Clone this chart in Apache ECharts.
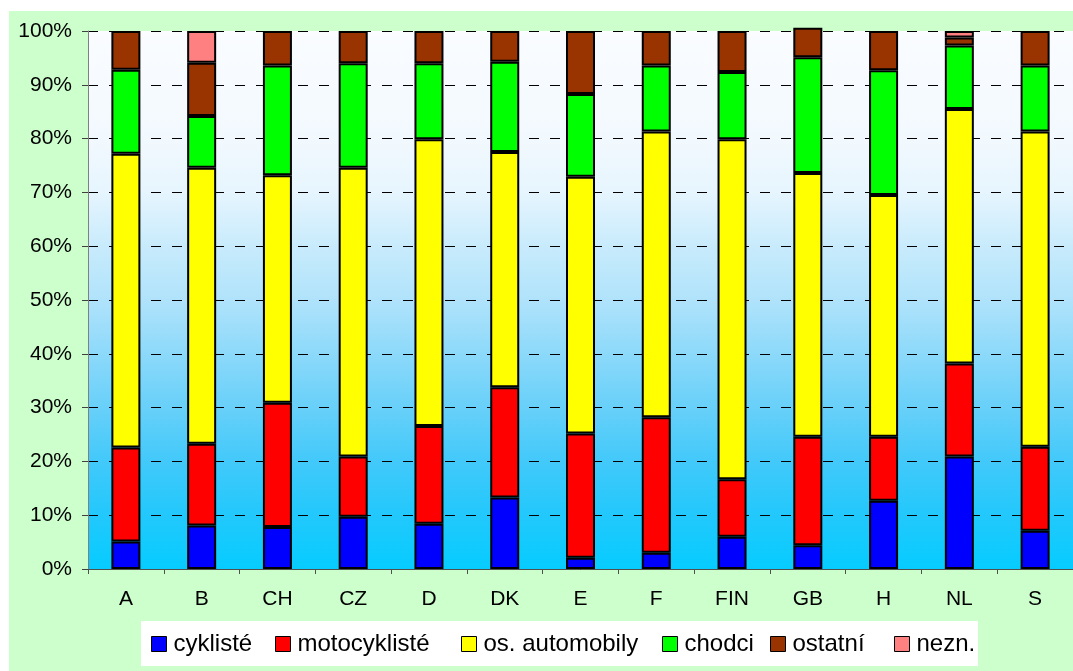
<!DOCTYPE html>
<html>
<head>
<meta charset="utf-8">
<script src="https://cdn.jsdelivr.net/npm/echarts@6/dist/echarts.min.js"></script>
<style>
  html, body { margin: 0; padding: 0; background: #ffffff; }
  #frame { position: absolute; left: 9px; top: 11px; width: 1064px; height: 660px; background: #ccffcc; }
  #chart { position: absolute; left: 0; top: 0; width: 1073px; height: 671px; }
</style>
</head>
<body>
<div id="frame"></div>
<div id="chart"></div>
<script>
// Podíl usmrcených podle druhu účastníka (%)
const categories = ['A', 'B', 'CH', 'CZ', 'D', 'DK', 'E', 'F', 'FIN', 'GB', 'H', 'NL', 'S'];
const cyklisteVals   = [5.1, 8.1, 7.8, 9.7, 8.4, 13.3, 2.1, 3.0, 6.0, 4.4, 12.7, 20.9, 7.1];
const motocyklVals   = [17.5, 15.2, 23.1, 11.2, 18.2, 20.5, 23.1, 25.2, 10.7, 20.2, 11.9, 17.3, 15.6];
const automobilyVals = [54.6, 51.3, 42.3, 53.7, 53.3, 43.7, 47.7, 53.1, 63.2, 49.0, 44.9, 47.3, 58.6];
const chodciVals     = [15.6, 9.6, 20.4, 19.4, 14.1, 16.8, 15.4, 12.3, 12.5, 21.5, 23.2, 11.8, 12.3];
const ostatniVals    = [7.2, 9.9, 6.4, 6.0, 6.0, 5.7, 11.7, 6.4, 7.6, 5.5, 7.3, 1.5, 6.4];
const neznVals       = [null, 5.9, null, null, null, null, null, null, null, null, null, 1.2, null];

const seriesNames  = ['cyklisté', 'motocyklisté', 'os. automobily', 'chodci', 'ostatní', 'nezn.'];
const seriesData   = [cyklisteVals, motocyklVals, automobilyVals, chodciVals, ostatniVals, neznVals];
const seriesColors = ['#0000ff', '#ff0000', '#ffff00', '#00ff00', '#993300', '#ff8080'];
const legendLeft   = [151, 275, 461, 662, 770, 894];

const FONT = '"Liberation Sans", Arial, sans-serif';

const chart = echarts.init(document.getElementById('chart'), null, { renderer: 'canvas' });

const legends = seriesNames.map((name, i) => ({
  data: [name],
  left: legendLeft[i],
  top: 632,
  padding: 0,
  icon: 'rect',
  itemWidth: 15,
  itemHeight: 15,
  itemStyle: { borderColor: '#000', borderWidth: 1 },
  textStyle: { color: '#000', fontSize: 24, fontFamily: FONT, padding: [0, 0, 0, 2] },
  selectedMode: false
}));

chart.setOption({
  animation: false,
  backgroundColor: 'transparent',
  textStyle: { fontFamily: FONT },
  graphic: [{
    type: 'rect',
    left: 141, top: 621,
    shape: { width: 837, height: 45 },
    style: { fill: '#ffffff' },
    z: 0
  }],
  legend: legends,
  grid: {
    left: 88, right: -8, top: 31, bottom: 102,
    show: true,
    borderWidth: 0,
    backgroundColor: {
      type: 'linear', x: 0, y: 0, x2: 0, y2: 1,
      colorStops: [
        { offset: 0.0, color: '#fafcff' },
        { offset: 0.2, color: '#f2f9fe' },
        { offset: 0.3, color: '#e6f5fe' },
        { offset: 0.4, color: '#c8ebfc' },
        { offset: 0.5, color: '#b0e3fb' },
        { offset: 0.6, color: '#8cd9fa' },
        { offset: 0.7, color: '#68d0f9' },
        { offset: 0.8, color: '#42c9fa' },
        { offset: 0.9, color: '#22c8fc' },
        { offset: 1.0, color: '#06ccff' }
      ]
    }
  },
  xAxis: {
    type: 'category',
    data: categories,
    axisLine: { show: true, lineStyle: { color: '#505050', width: 1 } },
    axisTick: { show: true, length: 5, lineStyle: { color: '#505050' } },
    axisLabel: { color: '#000', fontSize: 21, fontFamily: FONT, margin: 20, interval: 0 },
    splitLine: { show: false }
  },
  yAxis: {
    type: 'value',
    min: 0, max: 100, interval: 10,
    axisLine: { show: true, lineStyle: { color: '#808080', width: 1 } },
    axisTick: { show: true, length: 6, lineStyle: { color: '#404040' } },
    axisLabel: { color: '#000', fontSize: 21, fontFamily: FONT, margin: 16, formatter: '{value}%' },
    splitLine: { show: true, lineStyle: { color: '#000', width: 1, type: [10, 11] } }
  },
  series: seriesNames.map((name, i) => ({
    name: name,
    type: 'bar',
    stack: 'total',
    barWidth: 29,
    clip: false,
    data: seriesData[i],
    itemStyle: { color: seriesColors[i], borderColor: '#000', borderWidth: 2 }
  }))
});
</script>
</body>
</html>
